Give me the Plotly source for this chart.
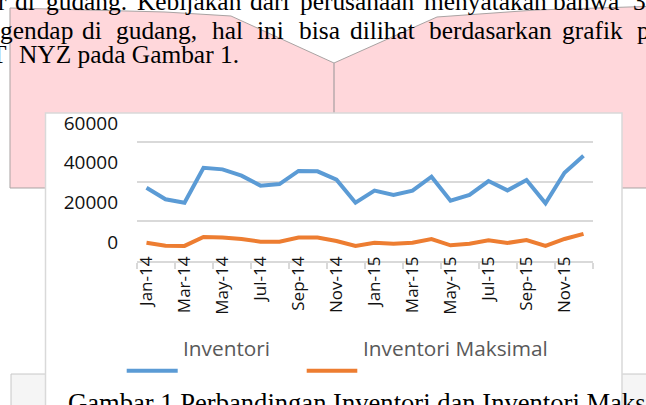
import plotly.graph_objects as go

# ---------------- data ----------------
months = ["Jan-14", "Feb-14", "Mar-14", "Apr-14", "May-14", "Jun-14", "Jul-14", "Aug-14",
          "Sep-14", "Oct-14", "Nov-14", "Dec-14", "Jan-15", "Feb-15", "Mar-15", "Apr-15",
          "May-15", "Jun-15", "Jul-15", "Aug-15", "Sep-15", "Oct-15", "Nov-15", "Dec-15"]
inventori = [36900, 31100, 29400, 47000, 46200, 43000, 38000, 38800, 45400, 45200, 41000, 29400,
             35500, 33300, 35500, 42500, 30400, 33300, 40300, 35600, 40800, 29100, 44500, 53100]
inventori_maks = [9200, 7700, 7600, 12100, 11900, 11100, 9700, 9700, 11800, 11800, 10100, 7600,
                  9200, 8700, 9200, 11100, 7900, 8700, 10400, 9100, 10600, 7600, 11100, 13700]
series_names = ["Inventori", "Inventori Maksimal"]
y_ticks = [0, 20000, 40000, 60000]

text_line1_words = ["r", "di", "gudang.", "Kebijakan", "dari", "perusahaan", "menyatakan", "bahwa", "3"]
text_line1_x = [-2, 15, 46, 137, 250, 300, 424, 553, 633]
text_line2_words = ["gendap", "di", "gudang,", "hal", "ini", "bisa", "dilihat", "berdasarkan", "grafik", "p"]
text_line2_x = [0, 82, 116, 212, 257, 299, 350, 429, 562, 637]
text_line3_words = ["T", "NYZ pada Gambar 1."]
text_line3_x = [-9, 19]
caption = "Gambar 1 Perbandingan Inventori dan Inventori Maksimal"

# ---------------- geometry ----------------
W, H = 646, 405
Y_TOP = 61000                      # a little headroom so the 60000 gridline is drawn
ML, MR, MB = 137, 53, 144
PH = round(119 * Y_TOP / 60000)
MT = H - MB - PH
PW = W - ML - MR

def px(X, Y):
    return (X - ML) / PW, (H - MB - Y) / PH

def path(points):
    s = ""
    for i, (X, Y) in enumerate(points):
        x, y = px(X, Y)
        s += ("M" if i == 0 else "L") + f"{x:.5f},{y:.5f} "
    return s + "Z"

BLUE = "#5B9BD5"
ORANGE = "#ED7D31"
GRID = "#D9D9D9"

fig = go.Figure()
fig.add_trace(go.Scatter(x=months, y=inventori, mode="lines", name=series_names[0],
                         line=dict(color=BLUE, width=4), showlegend=False))
fig.add_trace(go.Scatter(x=months, y=inventori_maks, mode="lines", name=series_names[1],
                         line=dict(color=ORANGE, width=4), showlegend=False))

shapes = []
# pink background shape with notch
shapes.append(dict(type="path", xref="paper", yref="paper", layer="below",
                   path=path([(10, 8), (165, 12), (231, 16), (334, 63), (437, 17), (536, 10),
                              (660, 6), (660, 188), (10, 188)]),
                   fillcolor="#FFD7DB", line=dict(color="#A9A3A3", width=1)))
x0, y0 = px(334, 63)
x1, y1 = px(334, 113)
shapes.append(dict(type="line", xref="paper", yref="paper", layer="below",
                   x0=x0, y0=y0, x1=x1, y1=y1, line=dict(color="#B8AAAC", width=1.5)))
# caption box
cx0, cy0 = px(11, 374)
cx1, cy1 = px(660, 420)
shapes.append(dict(type="rect", xref="paper", yref="paper", layer="below",
                   x0=cx0, y0=cy0, x1=cx1, y1=cy1, fillcolor="#F5F5F5",
                   line=dict(color="#C8C8C8", width=1)))
# chart box
bx0, by0 = px(45.5, 113)
bx1, by1 = px(622, 420)
shapes.append(dict(type="rect", xref="paper", yref="paper", layer="below",
                   x0=bx0, y0=by0, x1=bx1, y1=by1, fillcolor="white",
                   line=dict(color=GRID, width=1.5)))
# legend lines
for (xa, xb, col) in [(126.7, 177.7, BLUE), (306.7, 357.3, ORANGE)]:
    a, ly = px(xa, 370.7)
    b, _ = px(xb, 370.7)
    shapes.append(dict(type="line", xref="paper", yref="paper", layer="above",
                       x0=a, x1=b, y0=ly, y1=ly, line=dict(color=col, width=4)))

annotations = []
SERIF = "Liberation Serif, Times New Roman, serif"
FS = 25.4

def add_text(X, Ymid, txt, size, family, color, anchor="left"):
    x, y = px(X, Ymid)
    annotations.append(dict(xref="paper", yref="paper", x=x, y=y, text=txt, showarrow=False,
                            xanchor=anchor, yanchor="middle", borderpad=0,
                            font=dict(size=size, family=family, color=color)))

for w, xw in zip(text_line1_words, text_line1_x):
    add_text(xw - 1.5, 1, w, FS, SERIF, "black")
for w, xw in zip(text_line2_words, text_line2_x):
    add_text(xw - 1.5, 30, w, FS, SERIF, "black")
for w, xw in zip(text_line3_words, text_line3_x):
    add_text(xw - 1.5, 54, w, FS, SERIF, "black")
add_text(67, 403, caption, 26.6, SERIF, "black")
# legend texts
add_text(182, 348, series_names[0], 20.8, "Open Sans", "#595959")
add_text(362, 348, series_names[1], 20.8, "Open Sans", "#595959")

fig.update_layout(
    width=W, height=H,
    margin=dict(l=ML, r=MR, t=MT, b=MB, autoexpand=False),
    paper_bgcolor="white", plot_bgcolor="rgba(0,0,0,0)",
    showlegend=False,
    shapes=shapes, annotations=annotations,
    xaxis=dict(type="category", categoryorder="array", categoryarray=months,
               range=[-0.5, len(months) - 0.5],
               tickmode="linear", tick0=0, dtick=2, tickson="boundaries",
               tickangle=-90, ticks="outside", ticklen=6, tickcolor=GRID, tickwidth=1.5,
               showline=True, linecolor=GRID, linewidth=1.5, showgrid=False,
               ticklabelstandoff=-13,
               tickfont=dict(family="Open Sans", size=17, color="#111111")),
    yaxis=dict(range=[0, Y_TOP], tickvals=y_ticks, ticktext=[str(v) for v in y_ticks],
               showgrid=True, gridcolor=GRID, gridwidth=1.5, zeroline=False, showline=False,
               ticks="", ticklabelshift=-19, ticklabelstandoff=18,
               tickfont=dict(family="Open Sans", size=19, color="#111111")),
)

fig.write_html("out.html", config={"displayModeBar": False},
               post_script="document.body.style.margin='0';")
